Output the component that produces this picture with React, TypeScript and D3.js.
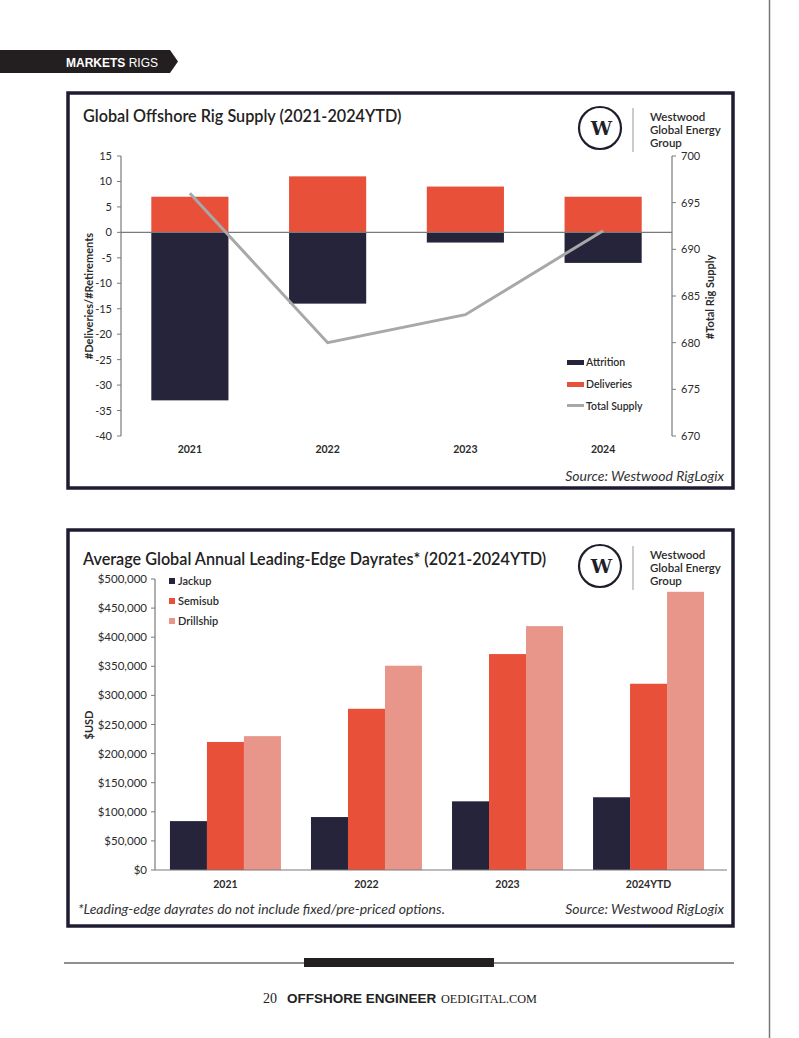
import React from "react";
import * as d3 from "d3";

// ---------- Chart 1 data ----------
const years1 = ["2021", "2022", "2023", "2024"];
const attrition = [-33, -14, -2, -6];
const deliveries = [7, 11, 9, 7];
const totalSupply = [696, 680, 683, 692];
const leftTicks = [15, 10, 5, 0, -5, -10, -15, -20, -25, -30, -35, -40];
const rightTicks = [700, 695, 690, 685, 680, 675, 670];
const legend1 = ["Attrition", "Deliveries", "Total Supply"];

// ---------- Chart 2 data ----------
const years2 = ["2021", "2022", "2023", "2024YTD"];
const seriesNames = ["Jackup", "Semisub", "Drillship"];
const jackup = [84000, 91000, 118000, 125000];
const semisub = [220000, 277000, 371000, 320000];
const drillship = [230000, 351000, 419000, 478000];
const dayrateTicks = [0, 50000, 100000, 150000, 200000, 250000, 300000, 350000, 400000, 450000, 500000];

const NAVY = "#25243a";
const RED = "#e8503a";
const PINK = "#e8968a";
const GREY = "#a8a8a8";
const AXIS = "#7a7a7a";
const TXT = "#2b2b2b";
const FONT = "Lato, 'Open Sans', sans-serif";

function Logo({ y }: { y: number }) {
  return (
    <g>
      <circle cx={600} cy={y} r={21} fill="#fff" stroke="#1f1f2c" strokeWidth={2.2} />
      <text x={600} y={y + 7} textAnchor="middle" fontFamily="'DejaVu Serif', serif" fontWeight="bold" fontSize={19} fill="#1f1f2c" letterSpacing={-3}>
        W
      </text>
      <line x1={633} x2={633} y1={y - 20} y2={y + 24} stroke="#999" strokeWidth={1} />
      <text fontFamily={FONT} fontWeight={600} fontSize={11.5} fill="#2a2a2a">
        <tspan x={650} y={y - 7}>Westwood</tspan>
        <tspan x={650} y={y + 6}>Global Energy</tspan>
        <tspan x={650} y={y + 19}>Group</tspan>
      </text>
    </g>
  );
}

function Chart1() {
  const x = d3.scaleBand<string>().domain(years1).range([121, 672]).paddingInner(0.44).paddingOuter(0.22);
  const y = d3.scaleLinear().domain([-40, 15]).range([436, 156]);
  const y2 = d3.scaleLinear().domain([670, 700]).range([436, 156]);
  const line = d3
    .line<number>()
    .x((_, i) => (x(years1[i]) as number) + x.bandwidth() / 2)
    .y((d) => y2(d));
  return (
    <g fontFamily={FONT}>
      <rect x={68} y={93} width={665} height={395} fill="#fff" stroke="#1d1c33" strokeWidth={3.5} />
      <text x={83} y={122} fontSize={16.2} fontWeight={600} fill="#222">
        Global Offshore Rig Supply (2021-2024YTD)
      </text>
      <Logo y={128} />
      {years1.map((yr, i) => (
        <g key={yr}>
          <rect x={x(yr)} y={y(deliveries[i])} width={x.bandwidth()} height={y(0) - y(deliveries[i])} fill={RED} />
          <rect x={x(yr)} y={y(0)} width={x.bandwidth()} height={y(attrition[i]) - y(0)} fill={NAVY} />
          <text x={(x(yr) as number) + x.bandwidth() / 2} y={453} textAnchor="middle" fontSize={10.5} fontWeight={700} fill={TXT}>
            {yr}
          </text>
        </g>
      ))}
      <line x1={121} x2={672} y1={y(0)} y2={y(0)} stroke={AXIS} strokeWidth={1.2} />
      <path d={line(totalSupply) as string} fill="none" stroke={GREY} strokeWidth={3} />
      {/* left axis */}
      <line x1={121} x2={121} y1={156} y2={436} stroke={AXIS} strokeWidth={1.2} />
      {leftTicks.map((t) => (
        <g key={t}>
          <line x1={117} x2={121} y1={y(t)} y2={y(t)} stroke={AXIS} strokeWidth={1} />
          <text x={112} y={y(t) + 4} textAnchor="end" fontSize={11} fill={TXT}>
            {t}
          </text>
        </g>
      ))}
      {/* right axis */}
      <line x1={672} x2={672} y1={156} y2={436} stroke={AXIS} strokeWidth={1.2} />
      {rightTicks.map((t) => (
        <g key={t}>
          <line x1={672} x2={676} y1={y2(t)} y2={y2(t)} stroke={AXIS} strokeWidth={1} />
          <text x={681} y={y2(t) + 4} fontSize={11} fill={TXT}>
            {t}
          </text>
        </g>
      ))}
      <text transform="translate(93,296) rotate(-90)" textAnchor="middle" fontSize={11} fontWeight={700} fill={TXT}>
        #Deliveries/#Retirements
      </text>
      <text transform="translate(714,297) rotate(-90)" textAnchor="middle" fontSize={11} fontWeight={700} fill={TXT}>
        #Total Rig Supply
      </text>
      {/* legend */}
      {legend1.map((name, i) => (
        <g key={name}>
          <rect x={567} y={360 + i * 22} width={17} height={i === 2 ? 3 : 5} fill={[NAVY, RED, GREY][i]} />
          <text x={586} y={366 + i * 22} fontSize={10.5} fontWeight={600} fill={TXT}>
            {name}
          </text>
        </g>
      ))}
      <text x={724} y={481} textAnchor="end" fontSize={14} fontStyle="italic" fill="#333">
        Source: Westwood RigLogix
      </text>
    </g>
  );
}

function Chart2() {
  const x0 = d3.scaleBand<string>().domain(years2).range([155, 719]).paddingInner(0.213).paddingOuter(0.106);
  const x1 = d3.scaleBand<string>().domain(seriesNames).range([0, x0.bandwidth()]);
  const y = d3.scaleLinear().domain([0, 500000]).range([870, 579]);
  const colors = [NAVY, RED, PINK];
  const data = [jackup, semisub, drillship];
  const fmt = (v: number) => "$" + d3.format(",")(v);
  return (
    <g fontFamily={FONT}>
      <rect x={68} y={530} width={665} height={396} fill="#fff" stroke="#1d1c33" strokeWidth={3.5} />
      <text x={83} y={565} fontSize={16.2} fontWeight={600} fill="#222">
        Average Global Annual Leading-Edge Dayrates* (2021-2024YTD)
      </text>
      <Logo y={566} />
      {years2.map((yr, i) => (
        <g key={yr}>
          {seriesNames.map((s, j) => (
            <rect key={s} x={(x0(yr) as number) + (x1(s) as number)} y={y(data[j][i])} width={x1.bandwidth()} height={y(0) - y(data[j][i])} fill={colors[j]} />
          ))}
          <text x={(x0(yr) as number) + x0.bandwidth() / 2} y={888} textAnchor="middle" fontSize={10.5} fontWeight={700} fill={TXT}>
            {yr}
          </text>
        </g>
      ))}
      <line x1={155} x2={727} y1={y(0)} y2={y(0)} stroke={AXIS} strokeWidth={1.2} />
      <line x1={155} x2={155} y1={579} y2={870} stroke={AXIS} strokeWidth={1.2} />
      {dayrateTicks.map((t) => (
        <g key={t}>
          <line x1={151} x2={155} y1={y(t)} y2={y(t)} stroke={AXIS} strokeWidth={1} />
          <text x={147} y={y(t) + 4} textAnchor="end" fontSize={11.5} fill={TXT}>
            {fmt(t)}
          </text>
        </g>
      ))}
      <text transform="translate(93,725) rotate(-90)" textAnchor="middle" fontSize={11} fontWeight={700} fill={TXT}>
        $USD
      </text>
      {seriesNames.map((s, j) => (
        <g key={s}>
          <rect x={169} y={578 + j * 20} width={6} height={6} fill={colors[j]} />
          <text x={178} y={584.5 + j * 20} fontSize={11} fontWeight={600} fill={TXT}>
            {s}
          </text>
        </g>
      ))}
      <text x={78} y={914} fontSize={14} fontStyle="italic" fill="#333">
        *Leading-edge dayrates do not include fixed/pre-priced options.
      </text>
      <text x={724} y={914} textAnchor="end" fontSize={14} fontStyle="italic" fill="#333">
        Source: Westwood RigLogix
      </text>
    </g>
  );
}

export default function App() {
  return (
    <svg width={799} height={1038} style={{ position: "absolute", left: 0, top: 0, background: "#fff" }}>
      <rect x={0} y={0} width={799} height={1038} fill="#fff" />
      {/* header tab */}
      <path d="M0,50 L170,50 L178,61.5 L170,73 L0,73 Z" fill="#231f20" />
      <text x={66} y={67} fontFamily="'Liberation Sans', Arial, sans-serif" fontSize={12} fill="#fff">
        <tspan fontWeight="bold">MARKETS</tspan>
        <tspan> RIGS</tspan>
      </text>
      <line x1={769.5} x2={769.5} y1={0} y2={1038} stroke="#777" strokeWidth={1.5} />
      <Chart1 />
      <Chart2 />
      {/* footer */}
      <line x1={64} x2={734} y1={963} y2={963} stroke="#222" strokeWidth={1.2} />
      <rect x={304} y={958} width={190} height={9} fill="#231f20" />
      <text x={263} y={1003} fontSize={14} fill="#222">
        <tspan fontFamily="'Liberation Serif', serif">20</tspan>
        <tspan x={287} fontFamily="'Liberation Sans', Arial, sans-serif" fontWeight="bold" fontSize={13.5}>OFFSHORE ENGINEER</tspan>
        <tspan x={441} fontFamily="'Liberation Serif', serif" fontSize={13.5} textLength={96} lengthAdjust="spacingAndGlyphs">OEDIGITAL.COM</tspan>
      </text>
    </svg>
  );
}
